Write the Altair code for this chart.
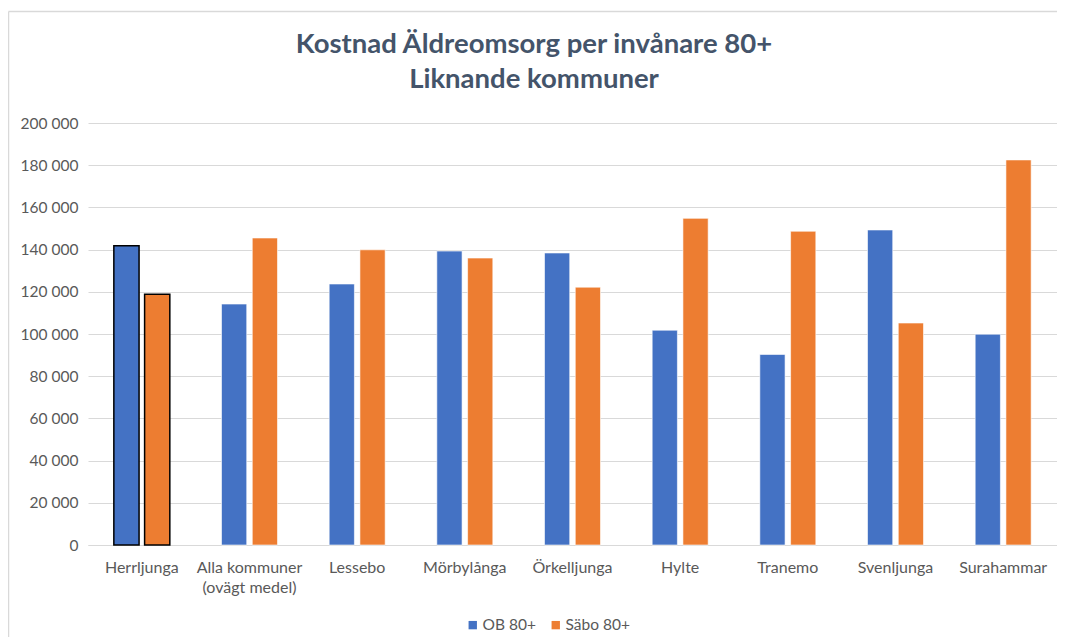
import altair as alt
import pandas as pd

categories = ["Herrljunga", "Alla kommuner (ovägt medel)", "Lessebo", "Mörbylånga",
              "Örkelljunga", "Hylte", "Tranemo", "Svenljunga", "Surahammar"]
ob_80 = [141800, 114200, 123700, 139300, 138400, 101800, 90300, 149300, 99900]
sabo_80 = [118800, 145500, 139900, 136000, 122200, 154800, 148700, 105200, 182500]
series = ["OB 80+", "Säbo 80+"]
y_ticks = [0, 20000, 40000, 60000, 80000, 100000, 120000, 140000, 160000, 180000, 200000]
title_lines = ["Kostnad Äldreomsorg per invånare 80+", "Liknande kommuner"]

rows = []
for c, a, b in zip(categories, ob_80, sabo_80):
    rows.append({"kommun": c, "serie": series[0], "värde": a, "highlight": c == "Herrljunga"})
    rows.append({"kommun": c, "serie": series[1], "värde": b, "highlight": c == "Herrljunga"})
df = pd.DataFrame(rows)

FONT = "Lato"
W, H = 969, 422

bars = alt.Chart(df).mark_bar().encode(
    x=alt.X("kommun:N", sort=categories, title=None,
            scale=alt.Scale(paddingInner=0.48, paddingOuter=0.24),
            axis=alt.Axis(labelAngle=0, ticks=False, domainColor="#d9d9d9",
                          labelColor="#595959", labelFont=FONT, labelFontSize=16,
                          labelPadding=14, labelBaseline="top", labelLineHeight=20,
                          labelExpr="datum.value == 'Alla kommuner (ovägt medel)' ? ['Alla kommuner', '(ovägt medel)'] : datum.label")),
    xOffset=alt.XOffset("serie:N", sort=series, scale=alt.Scale(paddingInner=0.18)),
    y=alt.Y("värde:Q", title=None,
            scale=alt.Scale(domain=[0, 200000], nice=False),
            axis=alt.Axis(values=y_ticks, grid=True, gridColor="#d9d9d9", domain=False,
                          ticks=False, labelColor="#595959", labelFont=FONT,
                          labelFontSize=15.5, labelPadding=10,
                          labelExpr="replace(format(datum.value, ',d'), ',', ' ')")),
    color=alt.Color("serie:N", sort=series,
                    scale=alt.Scale(domain=series, range=["#4472C4", "#ED7D31"]),
                    legend=alt.Legend(title=None, orient="none", direction="horizontal",
                                      legendX=377, legendY=494, symbolType="square",
                                      symbolSize=70, labelFont=FONT, labelFontSize=15.5,
                                      labelColor="#595959", columnPadding=12,
                                      symbolStrokeWidth=0, labelOffset=2)),
    stroke=alt.condition("datum.highlight", alt.value("#000000"), alt.value("#ffffff")),
    strokeWidth=alt.condition("datum.highlight", alt.value(1.5), alt.value(0.6)),
)

one = alt.Data(values=[{}])
top_line = alt.Chart(one).mark_rule(stroke="#d9d9d9", strokeWidth=1.5).encode(
    x=alt.value(-79.5), x2=alt.value(W), y=alt.value(-111.5))
left_line = alt.Chart(one).mark_rule(stroke="#d9d9d9", strokeWidth=1.5).encode(
    x=alt.value(-79.5), y=alt.value(-111.5), y2=alt.value(H + 120))

title1 = alt.Chart(one).mark_text(
    text=title_lines[0], font=FONT, fontSize=27.5, fontWeight="bold", color="#44546A",
    align="center", baseline="middle").encode(x=alt.value(446), y=alt.value(-78))
title2 = alt.Chart(one).mark_text(
    text=title_lines[1], font=FONT, fontSize=27.5, fontWeight="bold", color="#44546A",
    align="center", baseline="middle").encode(x=alt.value(446), y=alt.value(-43))

chart = alt.layer(top_line, left_line, bars, title1, title2).properties(
    width=W, height=H,
    autosize=alt.AutoSizeParams(type="none"),
    padding={"left": 80, "top": 115, "right": 0, "bottom": 92},
).configure_view(strokeWidth=0, stroke="transparent")

chart.save("out.html", embed_options={"renderer": "svg", "actions": False})
